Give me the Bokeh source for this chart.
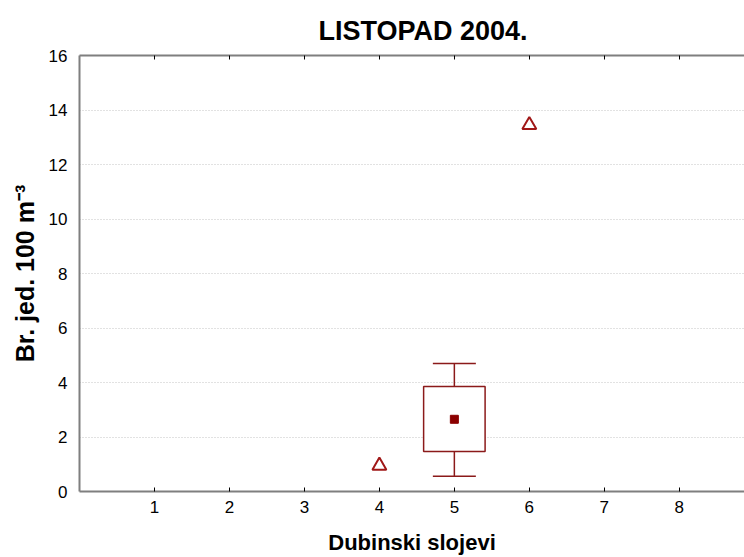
from bokeh.plotting import figure
from bokeh.models import (LinearAxis, FixedTicker, Range1d, ColumnDataSource,
                          Whisker, TeeHead, CustomJSTickFormatter)
from bokeh.embed import file_html
from bokeh.resources import INLINE

# ---- data ----
layers = [1, 2, 3, 4, 5, 6, 7, 8]
x_ticks = [1, 2, 3, 4, 5, 6, 7, 8]
y_ticks = [0, 2, 4, 6, 8, 10, 12, 14, 16]

# layer 5: box summary
box_x = [5]
box_mean = [2.65]
box_low = [1.47]
box_high = [3.85]
whisk_low = [0.56]
whisk_high = [4.70]

# single-value layers (triangles)
tri_x = [4, 6]
tri_y = [0.95, 13.45]

DARK = "#8b1a1a"
AXIS = "#7f7f7f"
FONT = "Liberation Sans"

p = figure(frame_width=665, frame_height=436,
           x_range=Range1d(0, 8.87), y_range=Range1d(0, 16),
           output_backend="svg", toolbar_location=None,
           min_border_left=79, min_border_right=0,
           min_border_top=55, min_border_bottom=66,
           background_fill_color="white", border_fill_color="white")

p.outline_line_color = None

# title
p.title.text = "LISTOPAD 2004."
p.title.align = "left"
p.title.offset = 239
p.title.standoff = 20
p.title.text_font = FONT
p.title.text_font_style = "bold"
p.title.text_font_size = "27px"
p.title.text_color = "black"

# grid
p.xgrid.visible = False
p.ygrid.ticker = FixedTicker(ticks=[2, 4, 6, 8, 10, 12, 14])
p.ygrid.grid_line_color = "#c4c4c4"
p.ygrid.grid_line_dash = "1 2"
p.ygrid.grid_line_width = 1

# x axis
xa = p.xaxis[0]
xa.ticker = FixedTicker(ticks=x_ticks)
xa.axis_label = "Dubinski slojevi"
xa.axis_label_text_font = FONT
xa.axis_label_text_font_style = "bold"
xa.axis_label_text_font_size = "22px"
xa.axis_label_text_color = "black"
xa.axis_label_standoff = 14
xa.major_label_text_font = FONT
xa.major_label_text_font_size = "17px"
xa.major_label_text_color = "black"
xa.major_label_standoff = 9
xa.axis_line_color = AXIS
xa.axis_line_width = 2
xa.major_tick_in = 4
xa.major_tick_out = 0
xa.major_tick_line_color = "black"
xa.minor_tick_line_color = None

# y axis
ya = p.yaxis[0]
ya.ticker = FixedTicker(ticks=y_ticks)
ya.axis_label = "Br. jed. 100 m\u207b\u00b3"
ya.axis_label_text_font = FONT
ya.axis_label_text_font_style = "bold"
ya.axis_label_text_font_size = "25px"
ya.axis_label_text_color = "black"
ya.axis_label_standoff = 7
ya.major_label_text_font = FONT
ya.major_label_text_font_size = "17px"
ya.major_label_text_color = "black"
ya.major_label_standoff = 6
ya.axis_line_color = AXIS
ya.axis_line_width = 2
ya.major_tick_line_color = None
ya.minor_tick_line_color = None

# top border axis with inward ticks, no labels
top = LinearAxis(ticker=FixedTicker(ticks=x_ticks),
                 formatter=CustomJSTickFormatter(code="return ''"))
top.major_label_standoff = 0
top.axis_line_color = AXIS
top.axis_line_width = 2
top.major_tick_in = 4
top.major_tick_out = 0
top.major_tick_line_color = "black"
top.minor_tick_line_color = None
p.add_layout(top, "above")

# box plot
src = ColumnDataSource(dict(x=box_x, mean=box_mean, lo=box_low, hi=box_high,
                            wl=whisk_low, wh=whisk_high))
wh = Whisker(base="x", lower="wl", upper="wh", source=src, dimension="height",
             line_color=DARK, line_width=1.5, level="underlay",
             upper_head=TeeHead(size=43, line_color=DARK, line_width=1.5),
             lower_head=TeeHead(size=43, line_color=DARK, line_width=1.5))
p.add_layout(wh)
p.vbar(x="x", bottom="lo", top="hi", width=0.82, source=src,
       fill_color="white", line_color=DARK, line_width=1.5)
p.scatter(x="x", y="mean", source=src, marker="square", size=8,
          fill_color="#8b0000", line_color="#8b0000")

# triangles
p.scatter(x=tri_x, y=tri_y, marker="triangle", size=14,
          fill_color=None, line_color="#a01818", line_width=2)

open("out.html", "w").write(file_html(p, INLINE))
